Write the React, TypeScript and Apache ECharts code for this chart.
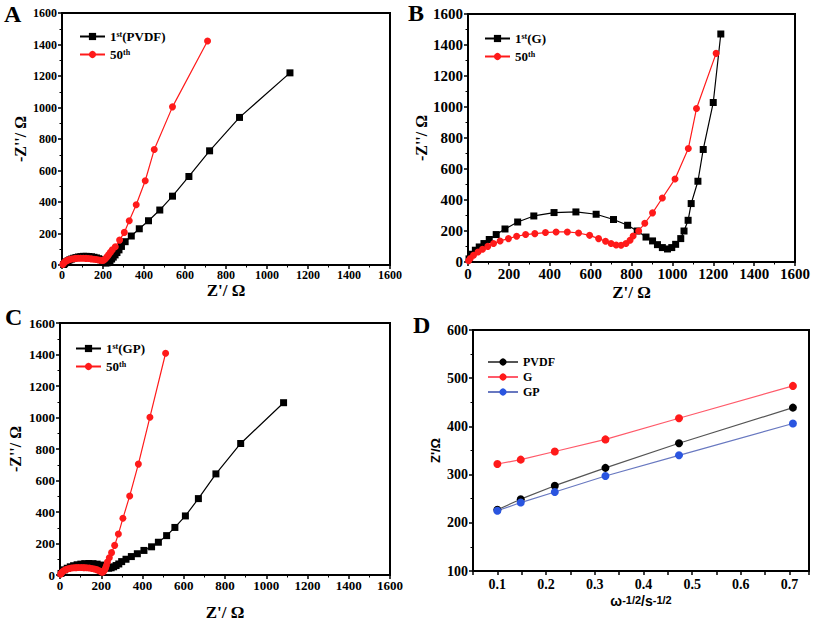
import React, { useEffect, useRef } from "react";
import * as echarts from "echarts";

// Panel A: 1st (PVDF) and 50th cycles
const aFirstX = [8,12,17,23,30,38,47,57,68,80,92,105,118,131,144,156,168,179,189,198,206,213,220,227,234,242,250,259,268,278,290,308,338,377,422,477,539,619,720,866,1112];
const aFirstY = [3,9,15,21,27,33,38,43,47,51,53,55,55,54,52,49,45,40,34,28,18,13,14,19,28,38,50,64,79,96,118,148,184,230,281,349,437,562,725,937,1220];
const aFiftyX = [4,7,11,16,22,29,37,46,56,67,79,91,104,117,130,143,156,168,179,188,196,203,209,215,221,228,236,245,260,281,304,328,362,406,450,539,710];
const aFiftyY = [4,10,16,22,27,31,35,38,40,42,43,43,43,42,41,39,37,35,32,30,29,31,36,44,54,66,80,96,116,158,207,281,383,535,733,1004,1422];

// Panel B: 1st (G) and 50th cycles
const bFirstX = [5,20,36,55,78,104,138,181,243,322,421,528,627,712,781,828,871,903,927,951,976,997,1016,1041,1057,1077,1092,1125,1151,1200,1237];
const bFirstY = [20,50,76,97,119,145,177,213,258,297,319,323,308,274,237,200,161,136,112,93,84,93,114,151,200,269,377,521,726,1029,1471];
const bFiftyX = [3,11,27,49,71,97,125,157,198,238,282,327,379,431,486,541,595,639,673,700,725,749,773,793,808,835,865,903,951,1013,1078,1118,1214];
const bFiftyY = [8,22,43,65,82,101,119,136,151,166,177,183,190,194,194,187,172,151,134,119,110,108,119,140,168,200,250,317,413,536,732,990,1346];

// Panel C: 1st (GP) and 50th cycles
const cFirstX = [5,12,22,35,50,66,83,101,120,140,160,180,198,212,224,236,248,260,272,285,299,320,346,375,407,444,477,517,557,608,671,756,876,1084];
const cFirstY = [10,22,33,43,52,59,65,69,72,73,72,69,63,55,47,43,46,52,60,70,85,100,117,135,156,179,208,250,302,375,485,642,835,1094];
const cFiftyX = [3,6,10,15,21,28,36,45,55,66,78,90,103,116,129,142,155,167,178,187,195,201,206,211,216,221,225,230,239,250,265,283,305,338,380,436,512];
const cFiftyY = [5,12,18,24,29,34,38,41,44,46,47,48,48,47,46,44,41,38,34,29,24,19,18,22,32,45,60,83,110,142,188,260,360,502,704,1002,1408];

// Panel D: Z' vs omega^-1/2
const dX = [0.1, 0.148, 0.218, 0.322, 0.473, 0.707];
const dPVDF = [227, 249, 277, 314, 365, 439];
const dG = [322, 331, 348, 373, 417, 484];
const dGP = [225, 242, 264, 297, 340, 406];

const eisTicks = [0, 1600, 200];
const dYTicks = [100, 600, 100];

const SERIF = "'Liberation Serif', 'Times New Roman', serif";
const SANS = "'Liberation Sans', Arial, sans-serif";

const zip = (xs: number[], ys: number[]) => xs.map((x, i) => [x, ys[i]]);

const legendNames: Record<string, string> = {
  a1: "1{sup|st}(PVDF)",
  a50: "50{sup|th}",
  b1: "1{sup|st}(G)",
  b50: "50{sup|th}",
  c1: "1{sup|st}(GP)",
  c50: "50{sup|th}",
  PVDF: "PVDF",
  G: "G",
  GP: "GP",
};

function axisCommon(fontSize: number) {
  return {
    axisLine: { show: true, onZero: false, lineStyle: { color: "#000", width: 2 } },
    axisTick: { show: true, inside: false, length: 4, lineStyle: { color: "#000", width: 1.5 } },
    minorTick: { show: true, splitNumber: 2, length: 2.5, lineStyle: { color: "#000", width: 1 } },
    splitLine: { show: false },
    axisLabel: {
      fontFamily: SERIF,
      fontWeight: "bold",
      fontSize,
      color: "#000",
      formatter: (v: number) => String(v),
    },
  };
}

function eisX(idx: number, fontSize: number, gap: number) {
  const c = axisCommon(fontSize);
  return {
    type: "value",
    gridIndex: idx,
    min: eisTicks[0],
    max: eisTicks[1],
    interval: eisTicks[2],
    ...c,
    axisLabel: { ...c.axisLabel, margin: 4 },
    name: "Z'/ Ω",
    nameLocation: "middle",
    nameGap: gap,
    nameTextStyle: { fontFamily: SERIF, fontWeight: "bold", fontSize: 17, color: "#000" },
  };
}

function eisY(idx: number, fontSize: number, gap: number) {
  const c = axisCommon(fontSize);
  return {
    type: "value",
    gridIndex: idx,
    min: eisTicks[0],
    max: eisTicks[1],
    interval: eisTicks[2],
    ...c,
    axisLabel: { ...c.axisLabel, margin: 5 },
    name: "-Z''/ Ω",
    nameLocation: "middle",
    nameGap: gap,
    nameTextStyle: { fontFamily: SERIF, fontWeight: "bold", fontSize: 16, color: "#000" },
  };
}

function eisLegend(left: number, top: number, names: string[]) {
  return {
    orient: "vertical",
    left,
    top,
    itemWidth: 25,
    itemHeight: 9,
    itemGap: 5,
    data: names,
    formatter: (n: string) => legendNames[n],
    textStyle: {
      fontFamily: SERIF,
      fontWeight: "bold",
      fontSize: 13,
      color: "#000",
      rich: {
        sup: { fontFamily: SERIF, fontWeight: "bold", fontSize: 8, color: "#000", verticalAlign: "top" },
      },
    },
  };
}

function eisSeries(name: string, idx: number, xs: number[], ys: number[], red: boolean) {
  const color = red ? "#ff1a1a" : "#000000";
  return {
    type: "line",
    name,
    xAxisIndex: idx,
    yAxisIndex: idx,
    data: zip(xs, ys),
    symbol: red ? "circle" : "rect",
    symbolSize: 7,
    showSymbol: true,
    itemStyle: { color, opacity: 1 },
    lineStyle: { color, width: 1.2 },
    z: red ? 3 : 2,
  };
}

function dSeries(name: string, ys: number[], mark: string, line: string) {
  return {
    type: "line",
    name,
    xAxisIndex: 3,
    yAxisIndex: 3,
    data: zip(dX, ys),
    symbol: "circle",
    symbolSize: 8,
    itemStyle: { color: mark, opacity: 1 },
    lineStyle: { color: line, width: 1.2 },
  };
}

export default function App() {
  const ref = useRef<HTMLDivElement>(null);
  useEffect(() => {
    if (!ref.current) return;
    const chart = echarts.init(ref.current, undefined, { renderer: "svg" });
    const dAxis = axisCommon(14);
    const option: any = {
      animation: false,
      backgroundColor: "#ffffff",
      grid: [
        { left: 62, top: 13, width: 328, height: 252, show: true, borderColor: "#000", borderWidth: 2 },
        { left: 468, top: 14, width: 329, height: 248, show: true, borderColor: "#000", borderWidth: 2 },
        { left: 60, top: 323, width: 330, height: 256, show: true, borderColor: "#000", borderWidth: 2 },
        { left: 473, top: 330, width: 336, height: 241, show: true, borderColor: "#000", borderWidth: 2 },
      ],
      xAxis: [
        eisX(0, 12, 17),
        eisX(1, 15, 22),
        eisX(2, 13, 29),
        {
          type: "value",
          gridIndex: 3,
          min: 0.05,
          max: 0.74,
          interval: 0.05,
          ...dAxis,
          minorTick: { show: false },
          axisLabel: {
            ...dAxis.axisLabel,
            margin: 6,
            formatter: (v: number) => {
              const t = v * 10;
              return Math.abs(t - Math.round(t)) < 1e-6 ? v.toFixed(1) : "";
            },
          },
          name: "ω{sup|-1/2}/s{sup|-1/2}",
          nameLocation: "middle",
          nameGap: 23,
          nameTextStyle: {
            fontFamily: SANS,
            fontWeight: "bold",
            fontSize: 14,
            color: "#000",
            rich: {
              sup: { fontFamily: SANS, fontWeight: "bold", fontSize: 11, color: "#000", verticalAlign: "top" },
            },
          },
        },
      ],
      yAxis: [
        eisY(0, 12, 34),
        eisY(1, 15, 37),
        eisY(2, 13, 37),
        {
          type: "value",
          gridIndex: 3,
          min: dYTicks[0],
          max: dYTicks[1],
          interval: dYTicks[2],
          ...dAxis,
          axisLabel: { ...dAxis.axisLabel, margin: 5 },
          name: "Z'/Ω",
          nameLocation: "middle",
          nameGap: 31,
          nameTextStyle: { fontFamily: SANS, fontWeight: "bold", fontSize: 13, color: "#000" },
        },
      ],
      legend: [
        eisLegend(74, 25, ["a1", "a50"]),
        eisLegend(479, 27, ["b1", "b50"]),
        eisLegend(70, 337, ["c1", "c50"]),
        {
          orient: "vertical",
          left: 482,
          top: 351,
          itemWidth: 30,
          itemHeight: 9,
          itemGap: 3,
          data: ["PVDF", "G", "GP"],
          textStyle: { fontFamily: SERIF, fontWeight: "bold", fontSize: 12, color: "#000" },
        },
      ],
      graphic: [
        { type: "text", left: 4, top: 2, style: { text: "A", font: `bold 24px ${SERIF}`, fill: "#000" } },
        { type: "text", left: 408, top: 1, style: { text: "B", font: `bold 24px ${SERIF}`, fill: "#000" } },
        { type: "text", left: 5, top: 305, style: { text: "C", font: `bold 24px ${SERIF}`, fill: "#000" } },
        { type: "text", left: 413, top: 313, style: { text: "D", font: `bold 24px ${SERIF}`, fill: "#000" } },
      ],
      series: [
        eisSeries("a1", 0, aFirstX, aFirstY, false),
        eisSeries("a50", 0, aFiftyX, aFiftyY, true),
        eisSeries("b1", 1, bFirstX, bFirstY, false),
        eisSeries("b50", 1, bFiftyX, bFiftyY, true),
        eisSeries("c1", 2, cFirstX, cFirstY, false),
        eisSeries("c50", 2, cFiftyX, cFiftyY, true),
        dSeries("PVDF", dPVDF, "#000000", "#555555"),
        dSeries("G", dG, "#ff1a1a", "#ff5a6a"),
        dSeries("GP", dGP, "#2a55e0", "#6878c0"),
      ],
    };
    chart.setOption(option);
    return () => chart.dispose();
  }, []);
  return (
    <div
      ref={ref}
      style={{ position: "fixed", left: 0, top: 0, width: 813, height: 622, background: "#fff" }}
    />
  );
}
